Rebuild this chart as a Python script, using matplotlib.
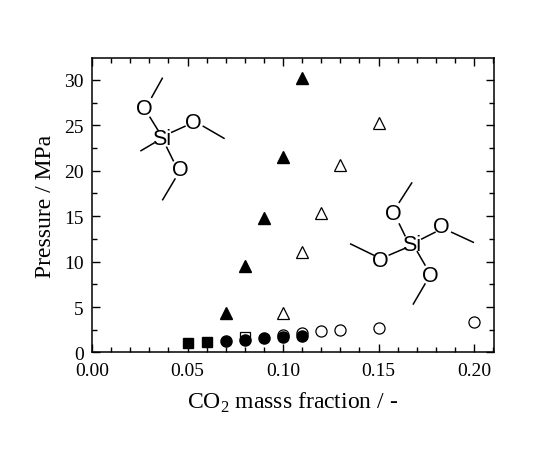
import matplotlib
matplotlib.use("Agg")
import matplotlib.pyplot as plt
from matplotlib.ticker import MultipleLocator
from matplotlib.lines import Line2D

# Data
x_filled_tri = [0.07, 0.08, 0.09, 0.10, 0.11]
y_filled_tri = [4.3, 9.5, 14.8, 21.5, 30.2]
x_open_tri = [0.10, 0.11, 0.12, 0.13, 0.15]
y_open_tri = [4.3, 11.0, 15.3, 20.6, 25.2]
x_open_circ = [0.10, 0.11, 0.12, 0.13, 0.15, 0.20]
y_open_circ = [1.9, 2.1, 2.4, 2.5, 2.7, 3.3]
x_open_sq = [0.08]
y_open_sq = [1.75]
x_filled_circ = [0.07, 0.08, 0.09, 0.10, 0.11]
y_filled_circ = [1.3, 1.4, 1.55, 1.65, 1.8]
x_filled_sq = [0.05, 0.06]
y_filled_sq = [1.0, 1.1]

plt.rcParams['font.family'] = ['Liberation Serif']
plt.rcParams['mathtext.fontset'] = 'custom'
plt.rcParams['mathtext.rm'] = 'Liberation Serif'

fig = plt.figure(figsize=(5.5, 4.52), dpi=100)
ax = fig.add_axes([0.1673, 0.218, 0.7310, 0.6515])

ax.plot(x_open_tri, y_open_tri, '^', ms=9, mfc='white', mec='black', mew=0.9, ls='none')
ax.plot(x_filled_tri, y_filled_tri, '^', ms=9, color='black', ls='none')
ax.plot(x_open_circ, y_open_circ, 'o', ms=8, mfc='white', mec='black', mew=0.9, ls='none')
ax.plot(x_open_sq, y_open_sq, 's', ms=7.5, mfc='white', mec='black', mew=0.9, ls='none')
ax.plot(x_filled_circ, y_filled_circ, 'o', ms=8, color='black', ls='none')
ax.plot(x_filled_sq, y_filled_sq, 's', ms=7.5, color='black', ls='none')

ax.set_xlim(0, 0.2105)
ax.set_ylim(0, 32.4)
ax.xaxis.set_major_locator(MultipleLocator(0.05))
ax.xaxis.set_minor_locator(MultipleLocator(0.01))
ax.yaxis.set_major_locator(MultipleLocator(5))
ax.yaxis.set_minor_locator(MultipleLocator(2.5))
ax.xaxis.set_major_formatter(plt.FuncFormatter(lambda v, p: f"{v:.2f}"))
ax.tick_params(which='both', direction='in', top=True, right=True, labelsize=14, width=1)
ax.tick_params(which='major', length=6)
ax.tick_params(which='minor', length=3.5)
ax.tick_params(axis='x', which='major', pad=7)
ax.tick_params(axis='y', which='major', pad=6)
for s in ax.spines.values():
    s.set_linewidth(1.1)

ax.set_xlabel(r'CO$_2$ masss fraction / -', fontsize=17, labelpad=8)
ax.set_ylabel('Pressure / MPa', fontsize=17, labelpad=6)

# Molecule sketches overlay in pixel coordinates
ov = fig.add_axes([0, 0, 1, 1], facecolor='none')
ov.set_xlim(0, 550)
ov.set_ylim(452, 0)
ov.axis('off')

def seg(p, q):
    ov.add_line(Line2D([p[0], q[0]], [p[1], q[1]], color='black', lw=1.1))

def lab(p, t):
    ov.text(p[0], p[1], t, ha='center', va='center', fontsize=15.5,
            family='Liberation Sans')

# Methyltrimethoxysilane
lab((161.7, 140), 'Si')
lab((144.3, 109.3), 'O')
lab((193.3, 123.3), 'O')
lab((180, 170.7), 'O')
seg((151.7, 98.3), (162.3, 79.3))
seg((203.3, 127.3), (224, 139.3))
seg((175, 180), (162.7, 200.7))
seg((154, 144), (141, 151.7))
seg((150, 118.3), (158.3, 131.7))
seg((171.7, 133.3), (185, 127.3))
seg((166.7, 148.3), (173.3, 161.7))

# Tetramethoxysilane
lab((411.7, 245.7), 'Si')
lab((393.3, 214.3), 'O')
lab((441.7, 227.7), 'O')
lab((380, 261.7), 'O')
lab((430, 276.7), 'O')
seg((399.3, 203.3), (411.7, 184))
seg((451.7, 233.3), (473.3, 243.3))
seg((373.3, 256), (350.7, 245))
seg((425, 285), (413.3, 305))
seg((399.3, 225), (405, 236.7))
seg((421.7, 240), (435, 233.3))
seg((389.3, 256), (405, 249.3))
seg((417.3, 252.7), (425, 266))

fig.savefig('out.png', dpi=100)
